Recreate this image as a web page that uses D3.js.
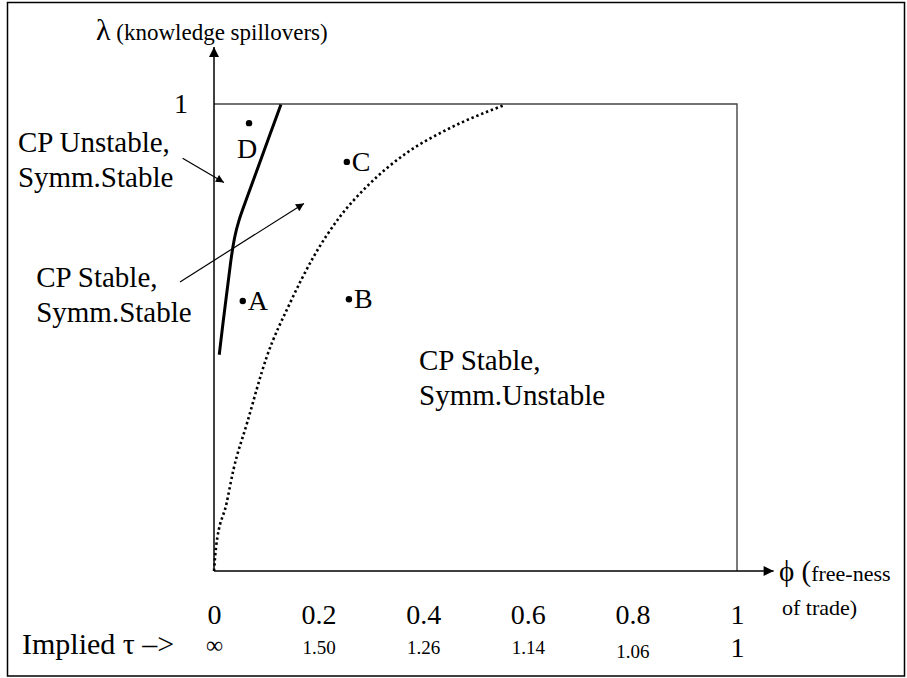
<!DOCTYPE html>
<html>
<head>
<meta charset="utf-8">
<script src="https://cdn.jsdelivr.net/npm/d3@7"></script>
<style>
  body { margin: 0; background: #fff; }
  svg text { font-family: "Liberation Serif", "Tinos", "Times New Roman", Times, "DejaVu Serif", serif; fill: #000; }
</style>
</head>
<body>
<div id="chart"></div>
<script>
var width = 907,
  height = 678;
var serif = '"Liberation Serif", "Tinos", "Times New Roman", Times, "DejaVu Serif", serif';

// phi (free-ness of trade) tick labels and implied tau underneath
var phiTicks = [0, 0.2, 0.4, 0.6, 0.8, 1];
var tauLabels = ["\u221e", "1.50", "1.26", "1.14", "1.06", "1"];

// solid boundary (CP sustain curve) [phi, lambda]
var solidCurve = [[0.010, 0.463], [0.017, 0.530], [0.025, 0.600], [0.032, 0.665], [0.039, 0.715],
  [0.047, 0.750], [0.060, 0.790], [0.075, 0.836], [0.090, 0.882], [0.107, 0.935], [0.128, 0.999]];

// dotted boundary (break curve) [phi, lambda]
var dottedCurve = [[0, 0], [0.004, 0.052], [0.024, 0.145], [0.037, 0.216], [0.063, 0.316],
  [0.101, 0.459], [0.145, 0.573], [0.190, 0.672], [0.241, 0.759], [0.292, 0.823],
  [0.368, 0.895], [0.445, 0.945], [0.556, 0.998]];

// labelled points
var pointNames = ["A", "B", "C", "D"];
var pointPhi = [0.055, 0.258, 0.254, 0.067];
var pointLambda = [0.578, 0.582, 0.876, 0.959];

var x = d3.scaleLinear().domain([0, 1]).range([214, 737]);
var y = d3.scaleLinear().domain([0, 1]).range([571, 104]);

var svg = d3.select("#chart")
  .append("svg")
  .attr("width", width)
  .attr("height", height)
  .attr("font-family", serif);

var defs = svg.append("defs");
defs.append("marker")
  .attr("id", "axhead")
  .attr("viewBox", "0 0 10 10")
  .attr("refX", 10).attr("refY", 5)
  .attr("markerWidth", 11).attr("markerHeight", 10)
  .attr("markerUnits", "userSpaceOnUse")
  .attr("orient", "auto")
  .append("path").attr("d", "M0,0L10,5L0,10z").attr("fill", "#000");
defs.append("marker")
  .attr("id", "smallhead")
  .attr("viewBox", "0 0 10 10")
  .attr("refX", 10).attr("refY", 5)
  .attr("markerWidth", 10).attr("markerHeight", 8)
  .attr("markerUnits", "userSpaceOnUse")
  .attr("orient", "auto")
  .append("path").attr("d", "M0,0L10,5L0,10z").attr("fill", "#000");

// outer frame
svg.append("rect")
  .attr("x", 7.5).attr("y", 2.5)
  .attr("width", 897).attr("height", 673.5)
  .attr("fill", "none").attr("stroke", "#000").attr("stroke-width", 1.5);

// unit box (top and right sides)
svg.append("path")
  .attr("d", "M" + x(0) + "," + y(1) + "H" + x(1) + "V" + y(0))
  .attr("fill", "none").attr("stroke", "#444").attr("stroke-width", 1.4);

// axes with arrows
svg.append("line")
  .attr("x1", x(0)).attr("y1", y(0)).attr("x2", x(1.07)).attr("y2", y(0))
  .attr("stroke", "#000").attr("stroke-width", 1.5).attr("marker-end", "url(#axhead)");
svg.append("line")
  .attr("x1", x(0)).attr("y1", y(0)).attr("x2", x(0)).attr("y2", y(1.122))
  .attr("stroke", "#000").attr("stroke-width", 1.5).attr("marker-end", "url(#axhead)");

// curves
var line = d3.line()
  .x(function (d) { return x(d[0]); })
  .y(function (d) { return y(d[1]); })
  .curve(d3.curveMonotoneX);

svg.append("path")
  .datum(dottedCurve)
  .attr("d", line)
  .attr("fill", "none").attr("stroke", "#000")
  .attr("stroke-width", 2.6).attr("stroke-dasharray", "2.4,2.8");

svg.append("path")
  .datum(solidCurve)
  .attr("d", line.curve(d3.curveBasis))
  .attr("fill", "none").attr("stroke", "#000").attr("stroke-width", 3);

// x tick labels (phi) and implied tau row, drawn with axes without tick marks
var xAxis = svg.append("g")
  .attr("transform", "translate(0," + y(0) + ")")
  .call(d3.axisBottom(x).tickValues(phiTicks).tickSize(0).tickPadding(33)
    .tickFormat(function (d) { return String(d); }));
xAxis.select(".domain").remove();
xAxis.attr("font-family", serif);
xAxis.selectAll("text")
  .style("font-family", serif)
  .style("font-size", "28px")
  .attr("fill", "#000");

var tauAxis = svg.append("g")
  .attr("transform", "translate(0," + y(0) + ")")
  .call(d3.axisBottom(x).tickValues(phiTicks).tickSize(0)
    .tickFormat(function (d, i) { return tauLabels[i]; }));
tauAxis.select(".domain").remove();
tauAxis.attr("font-family", serif);
tauAxis.selectAll("text")
  .style("font-family", serif)
  .style("font-size", function (d, i) { return i === 0 ? "24px" : (i === tauLabels.length - 1 ? "28px" : "19px"); })
  .attr("dy", 0)
  .attr("y", function (d, i) { return i === 0 ? 82 : (i === 4 ? 87 : (i === 5 ? 86 : 83)); })
  .attr("fill", "#000");

svg.append("text")
  .attr("x", 22).attr("y", y(0) + 83)
  .style("font-size", "30px")
  .text("Implied \u03c4 \u2013>");

// y tick label
var yAxis = svg.append("g")
  .attr("transform", "translate(" + x(0) + ",0)")
  .call(d3.axisLeft(y).tickValues([1]).tickSize(0).tickPadding(26)
    .tickFormat(function (d) { return String(d); }));
yAxis.select(".domain").remove();
yAxis.attr("font-family", serif);
yAxis.selectAll("text")
  .style("font-family", serif)
  .style("font-size", "28px")
  .attr("fill", "#000");

// axis titles
var ylab = svg.append("text").attr("x", 96).attr("y", 40);
ylab.append("tspan").style("font-size", "30px").text("\u03bb");
ylab.append("tspan").style("font-size", "23px").text(" (knowledge spillovers)");

var xlab = svg.append("text").attr("x", 779).attr("y", 581);
xlab.append("tspan").style("font-size", "29px").text("\u03d5 (");
xlab.append("tspan").style("font-size", "22px").text("free-ness");
svg.append("text").attr("x", 782).attr("y", 615)
  .style("font-size", "22px").text("of trade)");

// points
var pts = pointNames.map(function (n, i) {
  return { name: n, phi: pointPhi[i], lam: pointLambda[i] };
});
svg.selectAll("circle.pt")
  .data(pts)
  .enter().append("circle")
  .attr("class", "pt")
  .attr("cx", function (d) { return x(d.phi); })
  .attr("cy", function (d) { return y(d.lam); })
  .attr("r", 3.2)
  .attr("fill", "#000");
svg.selectAll("text.pt")
  .data(pts)
  .enter().append("text")
  .attr("class", "pt")
  .attr("x", function (d) { return d.name === "D" ? x(d.phi) - 2 : x(d.phi) + 5; })
  .attr("y", function (d) { return d.name === "D" ? y(d.lam) + 35 : y(d.lam) + 9; })
  .attr("text-anchor", function (d) { return d.name === "D" ? "middle" : "start"; })
  .style("font-size", "28px")
  .text(function (d) { return d.name; });

// region labels
function label(lines, px, py) {
  var t = svg.append("text").style("font-size", "29px");
  lines.forEach(function (s, i) {
    t.append("tspan").attr("x", x(px)).attr("y", y(py) + i * 35).text(s);
  });
}
label(["CP Unstable,", "Symm.Stable"], -0.375, 0.898);
label(["CP Stable,", "Symm.Stable"], -0.340, 0.609);
label(["CP Stable,", "Symm.Unstable"], 0.392, 0.430);

// pointer arrows
svg.append("line")
  .attr("x1", x(-0.060)).attr("y1", y(0.884)).attr("x2", x(0.019)).attr("y2", y(0.832))
  .attr("stroke", "#000").attr("stroke-width", 1.2).attr("marker-end", "url(#smallhead)");
svg.append("line")
  .attr("x1", x(-0.065)).attr("y1", y(0.619)).attr("x2", x(0.172)).attr("y2", y(0.787))
  .attr("stroke", "#000").attr("stroke-width", 1.2).attr("marker-end", "url(#smallhead)");
</script>
</body>
</html>
